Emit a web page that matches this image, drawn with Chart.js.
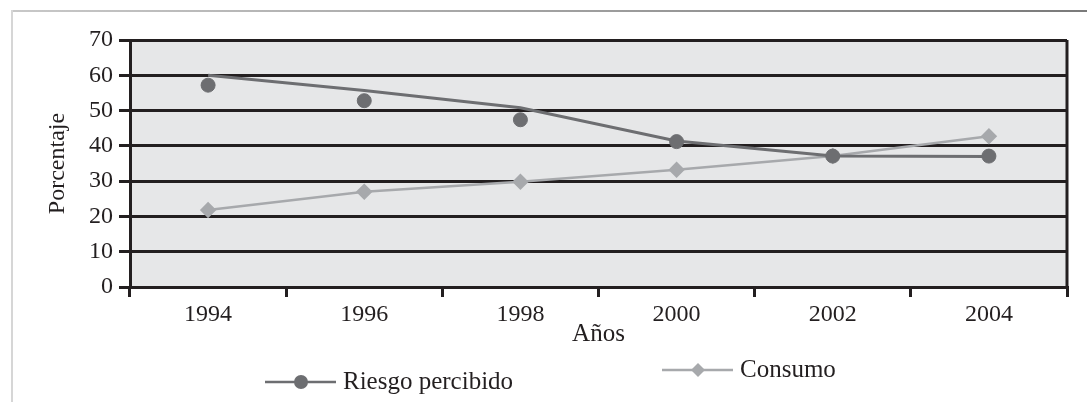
<!DOCTYPE html>
<html>
<head>
<meta charset="utf-8">
<script src="https://cdn.jsdelivr.net/npm/chart.js@4.4.1/dist/chart.umd.min.js"></script>
<style>
  html, body { margin: 0; padding: 0; background: #fff; }
  #wrap { position: relative; width: 1087px; height: 402px; }
</style>
</head>
<body>
<div id="wrap"><canvas id="c"></canvas></div>
<script>
const categories = ['1994', '1996', '1998', '2000', '2002', '2004'];
const riesgoLine = [60.0, 55.7, 50.8, 41.4, 37.1, 37.0];
const riesgoPoints = [57.2, 52.8, 47.4, 41.2, 37.1, 37.1];
const consumo = [21.8, 27.0, 29.8, 33.2, 37.1, 42.7];
const yTicks = [0, 10, 20, 30, 40, 50, 60, 70];

const INK = '#231f20';
const DARK = '#6d6e71';
const LIGHT = '#a7a9ac';
const FONT = 'Liberation Serif';

const framePlugin = {
  id: 'frame',
  beforeDraw(chart) {
    const ctx = chart.ctx;
    const a = chart.chartArea;
    ctx.save();
    ctx.fillStyle = '#ffffff';
    ctx.fillRect(0, 0, chart.width, chart.height);
    const g = ctx.createLinearGradient(12, 0, chart.width, 0);
    g.addColorStop(0, '#c8c8c8');
    g.addColorStop(1, '#7a7a7a');
    ctx.fillStyle = g;
    ctx.fillRect(12, 10, chart.width - 12, 2);
    ctx.fillStyle = '#d6d6d6';
    ctx.fillRect(11, 10, 2, chart.height - 10);
    ctx.fillStyle = '#e6e7e8';
    ctx.fillRect(a.left, a.top, a.right - a.left, a.bottom - a.top);
    ctx.restore();
  },
  beforeDatasetsDraw(chart) {
    const ctx = chart.ctx;
    const a = chart.chartArea;
    ctx.save();
    ctx.strokeStyle = INK;
    ctx.lineWidth = 3;
    ctx.beginPath();
    ctx.moveTo(a.right, a.top);
    ctx.lineTo(a.right, a.bottom);
    ctx.stroke();
    ctx.restore();
  },
  afterDraw(chart) {
    const ctx = chart.ctx;
    const items = [
      { label: 'Riesgo percibido', color: DARK, style: 'circle', x: 265, y: 382 },
      { label: 'Consumo', color: LIGHT, style: 'diamond', x: 662, y: 370 }
    ];
    ctx.save();
    items.forEach(it => {
      ctx.strokeStyle = it.color;
      ctx.lineWidth = 2.5;
      ctx.beginPath();
      ctx.moveTo(it.x, it.y);
      ctx.lineTo(it.x + 71, it.y);
      ctx.stroke();
      ctx.fillStyle = it.color;
      const cx = it.x + 36;
      ctx.beginPath();
      if (it.style === 'circle') {
        ctx.arc(cx, it.y, 7, 0, Math.PI * 2);
      } else {
        ctx.moveTo(cx, it.y - 7);
        ctx.lineTo(cx + 7, it.y);
        ctx.lineTo(cx, it.y + 7);
        ctx.lineTo(cx - 7, it.y);
        ctx.closePath();
      }
      ctx.fill();
      ctx.fillStyle = INK;
      ctx.font = '25px "' + FONT + '"';
      ctx.textBaseline = 'middle';
      ctx.textAlign = 'left';
      ctx.fillText(it.label, it.x + 78, it.y);
    });
    ctx.restore();
  }
};

new Chart(document.getElementById('c'), {
  type: 'line',
  data: {
    labels: categories,
    datasets: [
      {
        label: 'Riesgo percibido',
        data: riesgoPoints,
        showLine: false,
        pointStyle: 'circle',
        pointRadius: 7,
        pointBackgroundColor: DARK,
        pointBorderColor: DARK,
        borderColor: DARK,
        backgroundColor: DARK
      },
      {
        label: 'Riesgo percibido (línea)',
        data: riesgoLine,
        borderColor: DARK,
        borderWidth: 3,
        pointRadius: 0,
        tension: 0
      },
      {
        label: 'Consumo',
        data: consumo,
        borderColor: LIGHT,
        backgroundColor: LIGHT,
        borderWidth: 2.5,
        pointStyle: 'rectRot',
        pointRadius: 6.5,
        pointBackgroundColor: LIGHT,
        pointBorderColor: LIGHT,
        tension: 0
      }
    ]
  },
  options: {
    responsive: true,
    maintainAspectRatio: false,
    animation: false,
    layout: { padding: { left: 43, right: 20, top: 40, bottom: 53 } },
    plugins: {
      legend: { display: false },
      tooltip: { enabled: false }
    },
    scales: {
      x: {
        offset: true,
        grid: {
          offset: true,
          drawOnChartArea: false,
          drawTicks: true,
          tickLength: 10,
          color: INK,
          lineWidth: 3
        },
        border: { display: true, color: INK, width: 3 },
        ticks: {
          color: INK,
          font: { family: FONT, size: 24 },
          padding: 3,
          maxRotation: 0
        },
        title: {
          display: true,
          text: 'Años',
          color: INK,
          font: { family: FONT, size: 25 },
          padding: { top: 0, bottom: 0 }
        },
        afterFit(scale) { scale.height = 62; }
      },
      y: {
        min: 0,
        max: 70,
        afterBuildTicks(scale) { scale.ticks = yTicks.map(v => ({ value: v })); },
        grid: {
          color: INK,
          lineWidth: 3,
          tickLength: 11,
          tickColor: INK
        },
        border: { display: true, color: INK, width: 3 },
        ticks: {
          color: INK,
          font: { family: FONT, size: 24 },
          padding: 6
        },
        title: {
          display: true,
          text: 'Porcentaje',
          color: INK,
          font: { family: FONT, size: 24 },
          padding: { top: 0, bottom: 0 }
        },
        afterFit(scale) { scale.width = 87; }
      }
    }
  },
  plugins: [framePlugin]
});
</script>
</body>
</html>
